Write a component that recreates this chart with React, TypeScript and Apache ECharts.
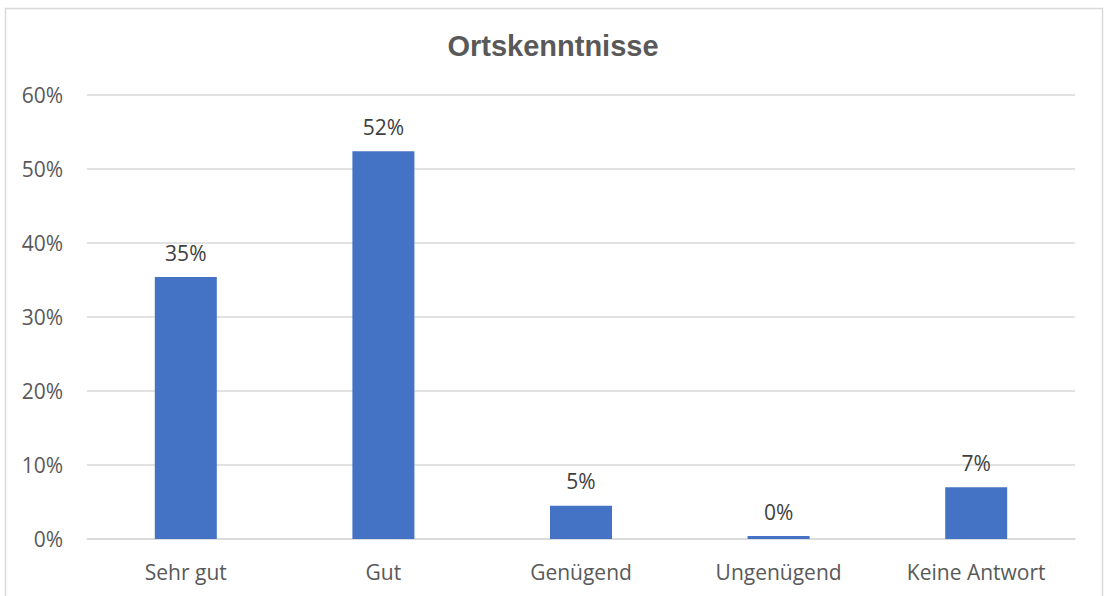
import React, { useEffect, useRef } from "react";
import * as echarts from "echarts";

const categories = ["Sehr gut", "Gut", "Genügend", "Ungenügend", "Keine Antwort"];
const values = [35.4, 52.4, 4.5, 0.4, 7.0];
const yTicks = [0, 10, 20, 30, 40, 50, 60];

export default function App() {
  const ref = useRef<HTMLDivElement>(null);
  useEffect(() => {
    const chart = echarts.init(ref.current!, undefined, { renderer: "svg" });
    chart.setOption({
      animation: false,
      backgroundColor: "#ffffff",
      title: {
        text: "Ortskenntnisse",
        left: "center",
        top: 26,
        textStyle: { fontFamily: "Liberation Sans", fontSize: 29, fontWeight: "bold", color: "#595959" },
      },
      graphic: [
        {
          type: "rect",
          shape: { x: 5.5, y: 8.5, width: 1097, height: 600 },
          style: { fill: "none", stroke: "#d9d9d9", lineWidth: 1.5 },
          silent: true,
        },
      ],
      grid: { left: 87, right: 31, top: 95, bottom: 57 },
      xAxis: {
        type: "category",
        data: categories,
        axisTick: { show: false },
        axisLine: { lineStyle: { color: "#d9d9d9", width: 1.5 } },
        axisLabel: { color: "#595959", fontFamily: "Open Sans", fontSize: 21, margin: 22 },
      },
      yAxis: {
        type: "value",
        min: yTicks[0],
        max: yTicks[yTicks.length - 1],
        interval: 10,
        axisLine: { show: false },
        axisTick: { show: false },
        splitLine: { lineStyle: { color: "#d9d9d9", width: 1.5 } },
        axisLabel: { color: "#595959", fontFamily: "Open Sans", fontSize: 21, margin: 24, formatter: (v: number) => v + "%" },
      },
      series: [
        {
          type: "bar",
          data: values,
          barWidth: 62,
          itemStyle: { color: "#4472c4" },
          label: {
            show: true,
            position: "top",
            distance: 14,
            color: "#404040",
            fontFamily: "Open Sans",
            fontSize: 21,
            formatter: (p: any) => Math.round(p.value) + "%",
          },
        },
      ],
    });
    return () => chart.dispose();
  }, []);
  return (
    <div
      ref={ref}
      style={{ position: "absolute", left: 0, top: 0, width: 1106, height: 596 }}
    />
  );
}
